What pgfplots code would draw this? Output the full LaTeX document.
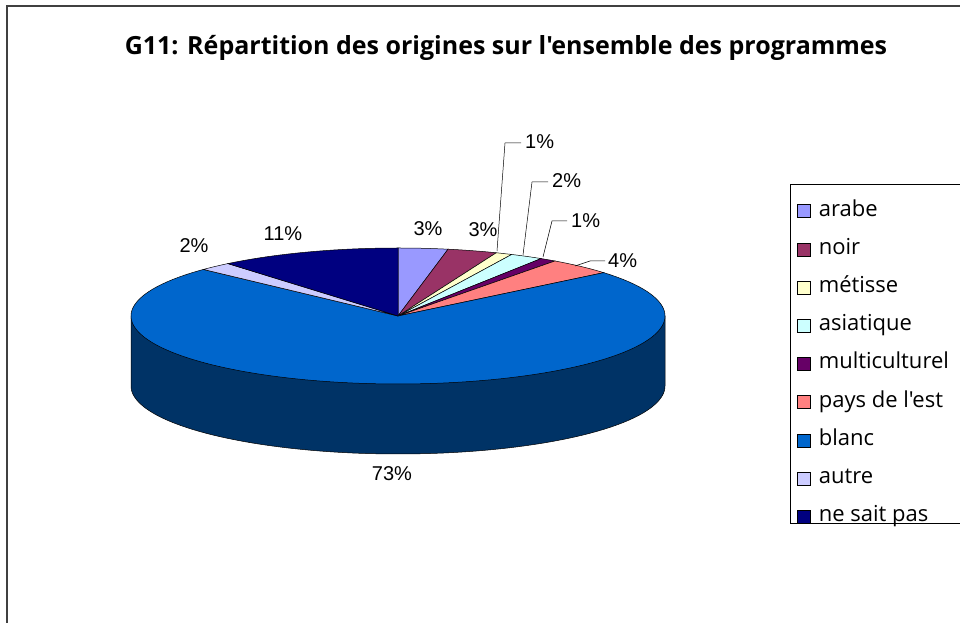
\documentclass[border=0pt]{standalone}
\usepackage{pgfplots}
\pgfplotsset{compat=1.18}
\usepackage{fontspec}
\setmainfont{Liberation Sans}
\newfontfamily\legfont[Ligatures=TeXOff]{Open Sans}
\definecolor{cArabe}{HTML}{9999FF}
\definecolor{cNoir}{HTML}{993366}
\definecolor{cMetisse}{HTML}{FFFFCC}
\definecolor{cAsiatique}{HTML}{CCFFFF}
\definecolor{cMulti}{HTML}{660066}
\definecolor{cEst}{HTML}{FF8080}
\definecolor{cBlanc}{HTML}{0066CC}
\definecolor{cBlancSide}{HTML}{003366}
\definecolor{cAutre}{HTML}{CCCCFF}
\definecolor{cNSP}{HTML}{000080}
\definecolor{frame}{HTML}{404040}
% Data (percent): arabe 3, noir 3, metisse 1, asiatique 2, multiculturel 1,
% pays de l'est 4, blanc 73, autre 2, ne sait pas 11
% Slices run clockwise from 12 o'clock; domains are the cumulative percentages.
\begin{document}
\begin{tikzpicture}
\useasboundingbox (0,0) rectangle (960pt,623pt);
\begin{axis}[at={(0,0)},anchor=south west,
  x=1pt,y=1pt,xmin=0,xmax=960,ymin=0,ymax=623,
  scale only axis,hide axis,clip=false,
  legend style={at={(axis cs:797,423)},anchor=north west,draw=none,fill=none,
    inner sep=0pt,row sep=16.2pt,column sep=6pt,
    nodes={inner sep=2pt,text height=14pt,text depth=4pt},
    font=\legfont\fontsize{22pt}{26pt}\selectfont},
  legend cell align=left,
  legend image code/.code={\draw[#1,draw=black,line width=0.6pt] (1pt,-6.5pt) rectangle (14pt,6.5pt);},
  slice/.style={draw=black,line width=0.5pt,samples=30},
]
% frame
\draw[frame,line width=2pt] (7,0) -- (7,617) -- (962,617);
% side wall (front)
\addplot[forget plot,fill=cBlancSide,draw=black,line width=0.5pt,domain=25:75,samples=120]
  ({398+267*sin(3.6*x)},{237+68*cos(3.6*x)}) -- (131,307) -- (665,307) -- cycle;
% top face slices
\addplot[slice,fill=cArabe,domain=0:3] ({398+267*sin(3.6*x)},{307+68*cos(3.6*x)}) -- (398,307) -- cycle;
\addlegendentry{arabe}
\addplot[slice,fill=cNoir,domain=3:6] ({398+267*sin(3.6*x)},{307+68*cos(3.6*x)}) -- (398,307) -- cycle;
\addlegendentry{noir}
\addplot[slice,fill=cMetisse,domain=6:7] ({398+267*sin(3.6*x)},{307+68*cos(3.6*x)}) -- (398,307) -- cycle;
\addlegendentry{métisse}
\addplot[slice,fill=cAsiatique,domain=7:9] ({398+267*sin(3.6*x)},{307+68*cos(3.6*x)}) -- (398,307) -- cycle;
\addlegendentry{asiatique}
\addplot[slice,fill=cMulti,domain=9:10] ({398+267*sin(3.6*x)},{307+68*cos(3.6*x)}) -- (398,307) -- cycle;
\addlegendentry{multiculturel}
\addplot[slice,fill=cEst,domain=10:14] ({398+267*sin(3.6*x)},{307+68*cos(3.6*x)}) -- (398,307) -- cycle;
\addlegendentry{pays de l'est}
\addplot[slice,fill=cBlanc,domain=14:87,samples=200] ({398+267*sin(3.6*x)},{307+68*cos(3.6*x)}) -- (398,307) -- cycle;
\addlegendentry{blanc}
\addplot[slice,fill=cAutre,domain=87:89] ({398+267*sin(3.6*x)},{307+68*cos(3.6*x)}) -- (398,307) -- cycle;
\addlegendentry{autre}
\addplot[slice,fill=cNSP,domain=89:100] ({398+267*sin(3.6*x)},{307+68*cos(3.6*x)}) -- (398,307) -- cycle;
\addlegendentry{ne sait pas}
% legend box
\draw[black,line width=0.8pt] (790,439) rectangle (960,100);
% leader lines
\draw[black,line width=0.5pt] (497,372) -- (505,480) -- (521,480);
\draw[black,line width=0.5pt] (523,368) -- (532,441) -- (548,441);
\draw[black,line width=0.5pt] (543,366) -- (552,402) -- (567,402);
\draw[black,line width=0.5pt] (575,357) -- (590,362) -- (605,362);
% labels
\begin{scope}[every node/.style={font=\fontsize{20pt}{24pt}\selectfont,inner sep=0pt}]
\node at (428,394) {3\%};
\node at (483,393) {3\%};
\node[anchor=west] at (525,481) {1\%};
\node[anchor=west] at (552,442) {2\%};
\node[anchor=west] at (571,402) {1\%};
\node[anchor=west] at (608,362) {4\%};
\node at (392,149) {73\%};
\node at (194,377) {2\%};
\node at (283,389) {11\%};
\end{scope}
\node[font=\legfont\bfseries\fontsize{25pt}{30pt}\selectfont] at (506,575) {G11: Répartition des origines sur l'ensemble des programmes};
\end{axis}
\end{tikzpicture}
\end{document}
